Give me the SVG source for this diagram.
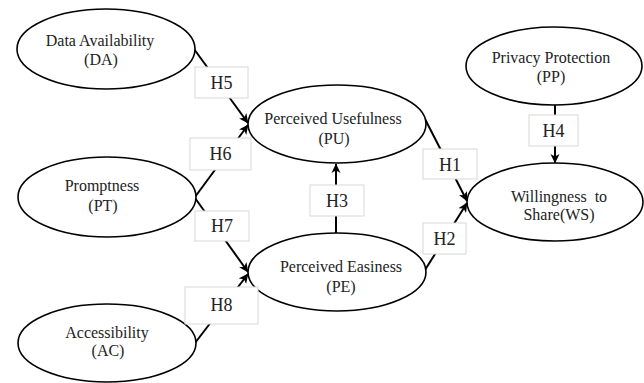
<svg xmlns="http://www.w3.org/2000/svg" width="644" height="383" viewBox="0 0 644 383">
<defs>
<marker id="arr" markerWidth="10" markerHeight="10" refX="9" refY="5" orient="auto" markerUnits="userSpaceOnUse">
<path d="M0,0.5 L9.5,5 L0,9.5 L2.5,5 Z" fill="#000"/>
</marker>
</defs>
<style>
.node ellipse{fill:#fff;stroke:#000;stroke-width:1.6}
.node text{font-family:"Liberation Serif","Times New Roman",serif;font-size:16px;fill:#222;text-anchor:middle}
.conn line{stroke:#000;stroke-width:2}
.lbl rect{fill:#fff;stroke:#d8d8d8;stroke-width:1}
.lbl text{font-family:"Liberation Serif","Times New Roman",serif;font-size:18px;fill:#222;text-anchor:middle}
</style>
<rect width="644" height="383" fill="#fff"/>
<g id="connectors" class="conn">
<line x1="194" y1="49" x2="248" y2="123" marker-end="url(#arr)"/>
<line x1="195" y1="197" x2="248" y2="125" marker-end="url(#arr)"/>
<line x1="195" y1="198" x2="248" y2="272" marker-end="url(#arr)"/>
<line x1="195" y1="343" x2="248" y2="274" marker-end="url(#arr)"/>
<line x1="336" y1="233" x2="336" y2="164" marker-end="url(#arr)"/>
<line x1="425" y1="119" x2="467" y2="201" marker-end="url(#arr)"/>
<line x1="425" y1="270" x2="467" y2="203" marker-end="url(#arr)"/>
<line x1="555" y1="105" x2="555" y2="163" marker-end="url(#arr)"/>
</g>
<g id="n-DA" class="node"><ellipse cx="106" cy="49" rx="89" ry="40"/><text x="100" y="46">Data Availability</text><text x="101" y="65">(DA)</text></g>
<g id="n-PT" class="node"><ellipse cx="107" cy="197" rx="89" ry="40"/><text x="102" y="191">Promptness</text><text x="103" y="211">(PT)</text></g>
<g id="n-AC" class="node"><ellipse cx="107" cy="343" rx="89" ry="39"/><text x="107" y="338">Accessibility</text><text x="108" y="356">(AC)</text></g>
<g id="n-PU" class="node"><ellipse cx="337" cy="124" rx="89" ry="39"/><text x="333" y="124">Perceived Usefulness</text><text x="334" y="144">(PU)</text></g>
<g id="n-PE" class="node"><ellipse cx="337" cy="272" rx="89" ry="39"/><text x="341" y="272">Perceived Easiness</text><text x="341" y="292">(PE)</text></g>
<g id="n-PP" class="node"><ellipse cx="554" cy="66" rx="88" ry="39"/><text x="551" y="63">Privacy Protection</text><text x="551" y="82">(PP)</text></g>
<g id="n-WS" class="node"><ellipse cx="555" cy="202" rx="88" ry="39"/><text x="559" y="202" xml:space="preserve">Willingness  to</text><text x="559" y="220">Share(WS)</text></g>
<g id="labels">
<g id="l-H5" class="lbl"><rect x="195" y="67" width="53" height="31"/><text x="221.5" y="89">H5</text></g>
<g id="l-H6" class="lbl"><rect x="190" y="138" width="61" height="32"/><text x="220.5" y="160">H6</text></g>
<g id="l-H7" class="lbl"><rect x="195" y="211" width="54" height="30"/><text x="222" y="232">H7</text></g>
<g id="l-H8" class="lbl"><rect x="185" y="287" width="73" height="37"/><text x="221.5" y="311">H8</text></g>
<g id="l-H3" class="lbl"><rect x="310" y="185" width="54" height="31"/><text x="337" y="207">H3</text></g>
<g id="l-H1" class="lbl"><rect x="423" y="149" width="54" height="30"/><text x="450" y="171">H1</text></g>
<g id="l-H2" class="lbl"><rect x="423" y="223" width="43" height="31"/><text x="444.5" y="245">H2</text></g>
<g id="l-H4" class="lbl"><rect x="529" y="115" width="49" height="31"/><text x="553.5" y="137">H4</text></g>
</g>
</svg>
